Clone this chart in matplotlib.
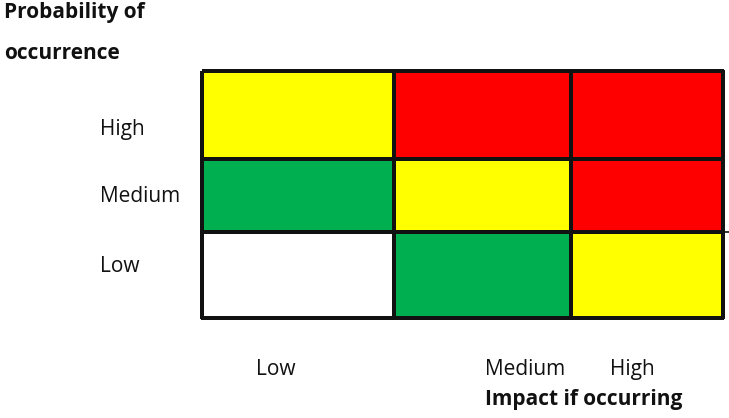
import matplotlib
matplotlib.use("Agg")
import matplotlib.pyplot as plt
from matplotlib.colors import ListedColormap, BoundaryNorm
import numpy as np

# Risk levels: 0 = none, 1 = low, 2 = medium, 3 = high
probability_labels = ["High", "Medium", "Low"]      # rows, top to bottom
impact_labels = ["Low", "Medium", "High"]           # columns, left to right
risk_high_prob = [2, 3, 3]
risk_medium_prob = [1, 2, 3]
risk_low_prob = [0, 1, 2]
level_colors = ["#FFFFFF", "#00B050", "#FFFF00", "#FF0000"]

W, H = 729, 418
fig = plt.figure(figsize=(W / 100, H / 100), dpi=100)
ax = fig.add_axes([0, 0, 1, 1])
ax.set_xlim(0, W)
ax.set_ylim(H, 0)
ax.axis("off")

font = "Open Sans"
fs = 15
txt = "#111111"

# grid layout in pixel space
col_edges = np.array([202, 394, 571, 723])
row_edges = np.array([71, 159, 232, 318])

grid = np.array([risk_high_prob, risk_medium_prob, risk_low_prob])
cmap = ListedColormap(level_colors)
norm = BoundaryNorm(np.arange(-0.5, len(level_colors)), cmap.N)
ax.pcolormesh(col_edges, row_edges, grid, cmap=cmap, norm=norm,
              edgecolors="#111111", linewidth=1.5)
ax.plot([col_edges[-1], W], [row_edges[2], row_edges[2]], color="#111111", lw=1.2)

# axis titles
ax.text(4, 18, "Probability of", fontsize=fs, fontweight="bold", family=font,
        va="baseline", ha="left", color=txt)
ax.text(4, 59, "occurrence", fontsize=fs, fontweight="bold", family=font,
        va="baseline", ha="left", color=txt)
ax.text(485, 405, "Impact if occurring", fontsize=fs, fontweight="bold", family=font,
        va="baseline", ha="left", color=txt)

# category labels
for lab, y in zip(probability_labels, [135, 202, 272]):
    ax.text(100, y, lab, fontsize=fs, family=font, va="baseline", ha="left", color=txt)
for lab, x in zip(impact_labels, [256, 485, 610]):
    ax.text(x, 375, lab, fontsize=fs, family=font, va="baseline", ha="left", color=txt)

fig.savefig("out.png", dpi=100)
